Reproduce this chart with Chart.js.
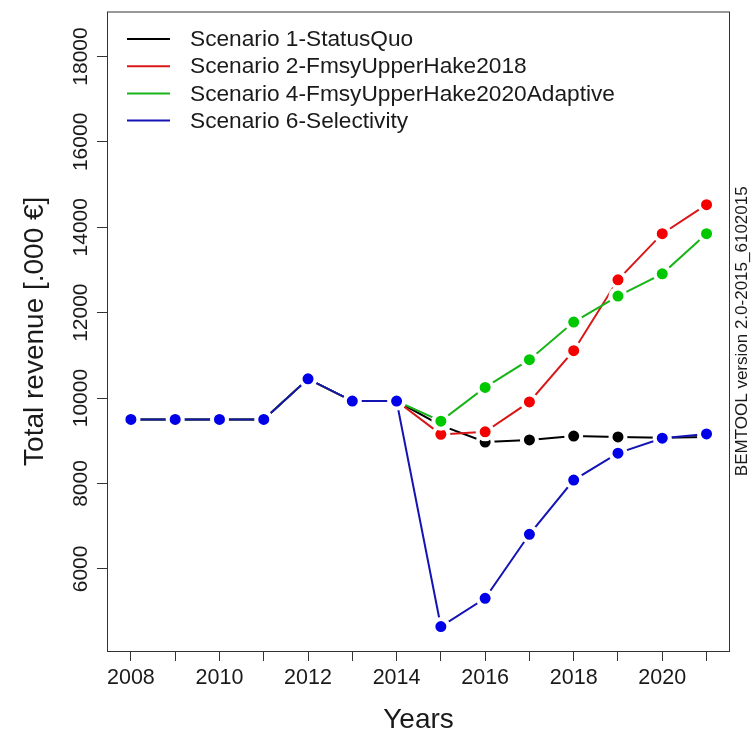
<!DOCTYPE html>
<html lang="en">
<head>
    <meta charset="UTF-8">
    <title>Total revenue</title>
    <script src="https://cdn.jsdelivr.net/npm/chart.js"></script>
</head>
<style>
    body{
        margin: 0;
        background: #fff;
    }
    .revenue{
        position: relative;
        width: 755px;
        height: 734px;
    }
</style>
<body>
<div class="revenue">
    <canvas id="revenue"></canvas>
</div>
<script>
    const years = [2008, 2009, 2010, 2011, 2012, 2013, 2014, 2015, 2016, 2017, 2018, 2019, 2020, 2021];
    const statusQuo   = [9500, 9500, 9500, 9500, 10450, 9930, 9930, 9360, 8970, 9020, 9110, 9090, 9070, 9090];
    const upperHake18 = [9500, 9500, 9500, 9500, 10450, 9930, 9930, 9150, 9210, 9910, 11110, 12770, 13850, 14530];
    const upperHake20 = [9500, 9500, 9500, 9500, 10450, 9930, 9930, 9460, 10250, 10900, 11780, 12390, 12910, 13850];
    const selectivity = [9500, 9500, 9500, 9500, 10450, 9930, 9930, 4650, 5310, 6810, 8080, 8710, 9060, 9160];
    const seriesNames = ['Scenario 1-StatusQuo', 'Scenario 2-FmsyUpperHake2018',
        'Scenario 4-FmsyUpperHake2020Adaptive', 'Scenario 6-Selectivity'];
    const yTicks = [6000, 8000, 10000, 12000, 14000, 16000, 18000];
    const xLabels = [2008, 2010, 2012, 2014, 2016, 2018, 2020];

    const FONT = '"Liberation Sans", Arial, sans-serif';
    const INK = '#1a1a1a';

    function series(label, values, line, dot, order) {
        return {
            label: label,
            data: years.map((yr, i) => ({x: yr, y: values[i]})),
            borderColor: line,
            backgroundColor: dot,
            borderWidth: 2,
            pointRadius: 7.5,
            pointBorderWidth: 4,
            pointBackgroundColor: dot,
            pointBorderColor: '#fff',
            pointHoverRadius: 7.5,
            order: order
        };
    }

    // R style box, inset legend and the version note on the right
    const extras = {
        id: 'extras',
        afterDraw(chart) {
            const ctx = chart.ctx;
            const a = chart.chartArea;
            ctx.save();
            ctx.strokeStyle = '#333';
            ctx.lineWidth = 1;
            ctx.strokeRect(a.left + 0.5, a.top + 0.5, a.right - a.left - 1, a.bottom - a.top);

            ctx.font = '22.7px ' + FONT;
            ctx.textBaseline = 'middle';
            ctx.textAlign = 'left';
            chart.data.datasets.forEach((ds, i) => {
                const y = a.top + 27.5 + i * 27.2;
                ctx.strokeStyle = ds.borderColor;
                ctx.lineWidth = 2;
                ctx.beginPath();
                ctx.moveTo(a.left + 20, y);
                ctx.lineTo(a.left + 63, y);
                ctx.stroke();
                ctx.fillStyle = INK;
                ctx.fillText(ds.label, a.left + 83, y + 1);
            });

            ctx.font = '17px ' + FONT;
            ctx.textAlign = 'center';
            ctx.translate(742, (a.top + a.bottom) / 2);
            ctx.rotate(-Math.PI / 2);
            ctx.fillText('BEMTOOL version 2.0-2015_6102015', 0, 0);
            ctx.restore();
        }
    };

    const chart = new Chart(document.getElementById('revenue'), {
        type: 'line',
        data: {
            datasets: [
                series(seriesNames[0], statusQuo, '#000000', '#000000', 3),
                series(seriesNames[1], upperHake18, '#d81818', '#f50000', 2),
                series(seriesNames[2], upperHake20, '#18b418', '#00c800', 1),
                series(seriesNames[3], selectivity, '#1414b4', '#0000e8', 0)
            ]
        },
        options: {
            responsive: true,
            maintainAspectRatio: false,
            animation: false,
            layout: {
                padding: {top: 7, right: 25, left: 0, bottom: 0}
            },
            plugins: {
                legend: {display: false},
                tooltip: {enabled: false}
            },
            scales: {
                x: {
                    type: 'linear',
                    min: 2007.46,
                    max: 2021.53,
                    afterBuildTicks: (scale) => {
                        scale.ticks = years.map(v => ({value: v}));
                    },
                    afterFit: (scale) => {
                        scale.height = 83;
                    },
                    grid: {
                        drawOnChartArea: false,
                        drawTicks: true,
                        tickLength: 10,
                        color: '#333'
                    },
                    border: {display: false},
                    ticks: {
                        autoSkip: false,
                        maxRotation: 0,
                        padding: 4,
                        color: INK,
                        font: {family: FONT, size: 21.5},
                        callback: (v) => xLabels.includes(v) ? String(v) : ''
                    },
                    title: {
                        display: true,
                        text: 'Years',
                        color: INK,
                        padding: {top: 0, bottom: 0},
                        font: {family: FONT, size: 28, lineHeight: 1}
                    }
                },
                y: {
                    type: 'linear',
                    min: 4077,
                    max: 19053,
                    afterBuildTicks: (scale) => {
                        scale.ticks = yTicks.map(v => ({value: v}));
                    },
                    afterFit: (scale) => {
                        scale.width = 107;
                    },
                    grid: {
                        drawOnChartArea: false,
                        drawTicks: true,
                        tickLength: 10,
                        color: '#333'
                    },
                    border: {display: false},
                    ticks: {
                        minRotation: 90,
                        maxRotation: 90,
                        crossAlign: 'center',
                        padding: -13,
                        color: INK,
                        font: {family: FONT, size: 21},
                        callback: (v) => String(v)
                    },
                    title: {
                        display: true,
                        text: 'Total revenue [.000 €]',
                        color: INK,
                        padding: {top: 18, bottom: 0},
                        font: {family: FONT, size: 28, lineHeight: 1.2}
                    }
                }
            }
        },
        plugins: [extras]
    });
</script>
</body>
</html>
